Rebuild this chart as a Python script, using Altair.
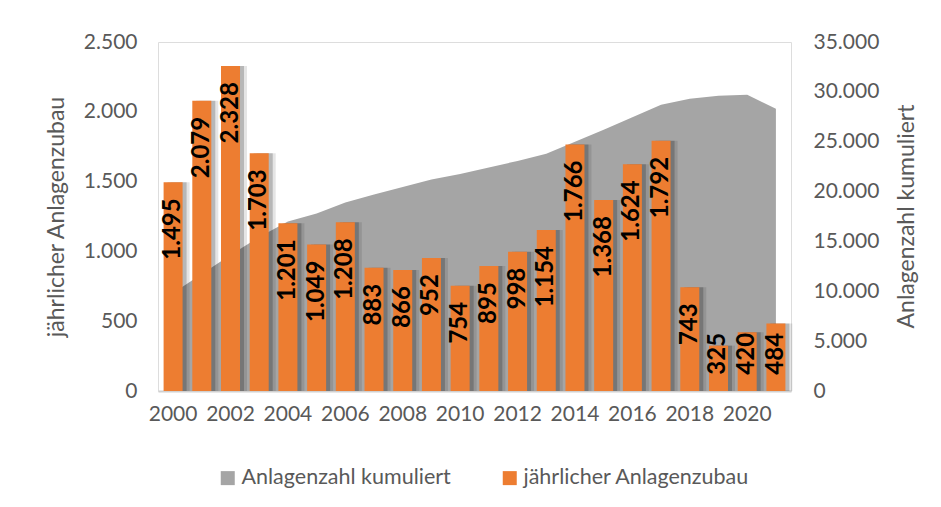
import altair as alt
import pandas as pd

years = ["2000", "2001", "2002", "2003", "2004", "2005", "2006", "2007", "2008", "2009", "2010",
         "2011", "2012", "2013", "2014", "2015", "2016", "2017", "2018", "2019", "2020", "2021"]
annual = [1495, 2079, 2328, 1703, 1201, 1049, 1208, 883, 866, 952, 754,
          895, 998, 1154, 1766, 1368, 1624, 1792, 743, 325, 420, 484]
cumulative = [9830, 11740, 13640, 15450, 17000, 17810, 18900, 19700, 20450, 21200, 21750,
              22420, 23070, 23800, 25000, 26200, 27450, 28700, 29300, 29600, 29700, 28300]
series = ["Anlagenzahl kumuliert", "jährlicher Anlagenzubau"]
colors = ["#A5A5A5", "#ED7D31"]
left_ticks = [0, 500, 1000, 1500, 2000, 2500]
right_ticks = [0, 5000, 10000, 15000, 20000, 25000, 30000, 35000]

df = pd.DataFrame({"year": years, "v": annual, "cum": cumulative})

FONT = "Lato"
GREY = "#595959"
DE_FMT = "replace(format(datum.value, ','), ',', '.')"

xscale = alt.Scale(paddingInner=0.338, paddingOuter=0.195)
xaxis = alt.Axis(title=None, labelExpr="toNumber(datum.value) % 2 == 0 ? datum.label : ''",
                 labelAngle=0, labelFontSize=21, labelColor=GREY, labelFont=FONT,
                 ticks=False, tickSize=0, labelPadding=12, domainColor="#D0D0D0",
                 domainWidth=2, grid=False)

left_axis = alt.Axis(orient="left", values=left_ticks, labelExpr=DE_FMT, grid=False,
                     domain=False, ticks=False, tickSize=0, labelPadding=21,
                     labelFontSize=21, labelFont=FONT, labelColor=GREY,
                     title="jährlicher Anlagenzubau", titleFont=FONT, titleFontSize=23,
                     titleFontWeight="normal", titleColor=GREY, titlePadding=15)
right_axis = alt.Axis(orient="right", values=right_ticks, labelExpr=DE_FMT, grid=False,
                      domain=False, ticks=False, tickSize=0, labelPadding=22,
                      labelFontSize=21, labelFont=FONT, labelColor=GREY,
                      title="Anlagenzahl kumuliert", titleFont=FONT, titleFontSize=23,
                      titleFontWeight="normal", titleColor=GREY,
                      titleAngle=270, titleX=115, titleY=174,
                      titleAlign="center", titleBaseline="middle")

yleft = alt.Scale(domain=[0, 2500], nice=False)
yright = alt.Scale(domain=[0, 35000], nice=False)

color = alt.Color("s:N", scale=alt.Scale(domain=series, range=colors),
                  legend=alt.Legend(title=None, orient="none", legendX=59, legendY=425,
                                    direction="horizontal", symbolType="square",
                                    symbolSize=196, symbolStrokeWidth=0, symbolOpacity=1,
                                    labelFontSize=21.5, labelFont=FONT, labelColor=GREY,
                                    labelLimit=0, columnPadding=48, labelOffset=3))

base = alt.Chart(df)

area = base.transform_calculate(s="'Anlagenzahl kumuliert'").mark_area(opacity=1).encode(
    x=alt.X("year:O", scale=xscale, axis=xaxis, bandPosition=0.5),
    y=alt.Y("cum:Q", scale=yright, axis=right_axis),
    color=color,
)

shadow1 = base.mark_bar(xOffset=7, color="black", opacity=0.1).encode(
    x=alt.X("year:O", scale=xscale, axis=xaxis),
    y=alt.Y("v:Q", scale=yleft, axis=left_axis),
)
shadow2 = base.mark_bar(xOffset=4, color="black", opacity=0.2).encode(
    x=alt.X("year:O", scale=xscale, axis=xaxis),
    y=alt.Y("v:Q", scale=yleft, axis=left_axis),
)
bars = base.transform_calculate(s="'jährlicher Anlagenzubau'").mark_bar(opacity=1).encode(
    x=alt.X("year:O", scale=xscale, axis=xaxis),
    y=alt.Y("v:Q", scale=yleft, axis=left_axis),
    color=color,
)
labels = base.transform_calculate(
    ly="max(datum.v - 115, datum.v >= 1000 ? 580 : 416)",
    lab="replace(format(datum.v, ','), ',', '.')",
).mark_text(angle=270, align="right", baseline="middle", font=FONT, fontSize=24,
            fontWeight="bold", color="black").encode(
    x=alt.X("year:O", scale=xscale, axis=xaxis),
    y=alt.Y("ly:Q", scale=yleft, axis=left_axis),
    text="lab:N",
)

inner = alt.layer(shadow1, shadow2, bars, labels)

chart = alt.layer(area, inner).resolve_scale(y="independent").properties(
    width=633, height=349,
    padding={"left": 150, "top": 34, "right": 142, "bottom": 108},
    autosize=alt.AutoSizeParams(type="none"),
).configure_view(stroke=None).configure(background="white")

chart.save("out.html", embed_options={"renderer": "svg", "actions": False})
